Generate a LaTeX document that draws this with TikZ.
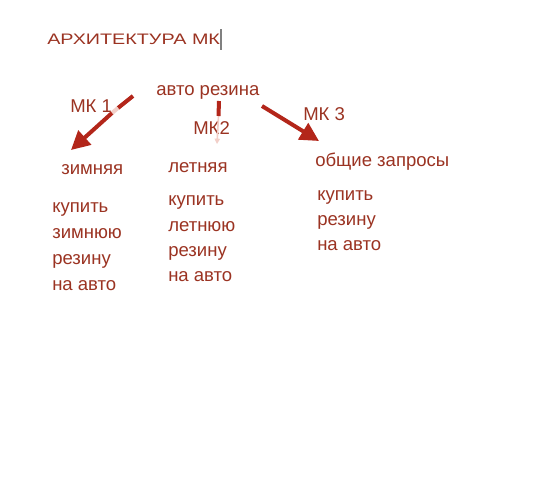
\documentclass[tikz,border=0pt]{standalone}
\usepackage{fontspec}
\setmainfont{Liberation Sans}
\newfontfamily\titlefont[FakeStretch=1.3]{Liberation Sans}
\usetikzlibrary{arrows.meta}
\definecolor{txt}{HTML}{9B3322}
\definecolor{arr}{HTML}{B3261A}
\definecolor{pale}{HTML}{F2CFC8}
\tikzset{
  lbl/.style={anchor=base west, inner sep=0pt, text=txt, font=\fontsize{13.9}{16}\selectfont},
  ttl/.style={anchor=base west, inner sep=0pt, text=txt, font=\titlefont\fontsize{11.4}{13}\selectfont},
  bigarrow/.style={draw=arr, line width=3pt, -{Triangle[length=14pt,width=14pt]}},
  smallarrow/.style={draw=pale, line width=1.2pt, -{Triangle[length=4pt,width=4pt]}},
}
\begin{document}
\begin{tikzpicture}[x=0.75pt,y=-0.75pt]
\useasboundingbox[fill=white] (0,0) rectangle (533,489);
% title
\node[ttl] (title) at (47,45) {АРХИТЕКТУРА МК};
\coordinate (cur1) at (221,29);
\coordinate (cur2) at (221,50);
\draw[gray, line width=0.8pt] (cur1) -- (cur2);
% root
\node[lbl] (root) at (156,95) {авто резина};
% labels
\node[lbl] (mk1) at (70,112) {МК 1};
\node[lbl] (mk2) at (193,134) {МК2};
\node[lbl] (mk3) at (303,120) {МК 3};
% children
\node[lbl] (c1) at (61,174) {зимняя};
\node[lbl] (c2) at (168,172) {летняя};
\node[lbl] (c3) at (315,166) {общие запросы};
% lists
\node[lbl] (l11) at (52,212) {купить};
\node[lbl] (l12) at (52,238) {зимнюю};
\node[lbl] (l13) at (52,264) {резину};
\node[lbl] (l14) at (52,290) {на авто};
\node[lbl] (l21) at (168,205) {купить};
\node[lbl] (l22) at (168,231) {летнюю};
\node[lbl] (l23) at (168,256) {резину};
\node[lbl] (l24) at (168,281) {на авто};
\node[lbl] (l31) at (317,200) {купить};
\node[lbl] (l32) at (317,225) {резину};
\node[lbl] (l33) at (317,250) {на авто};
% arrows
\coordinate (a1s) at (133,96);
\coordinate (a1g1) at (118,108);
\coordinate (a1g2) at (112,113);
\coordinate (a1e) at (71,150);
\draw[draw=arr, line width=3pt] (a1s) -- (a1g1);
\draw[draw=pale, line width=3pt] (a1g1) -- (a1g2);
\draw[bigarrow] (a1g2) -- (a1e);
\coordinate (a2s) at (219,101);
\coordinate (a2m) at (218.5,116);
\coordinate (a2e) at (217,144);
\draw[smallarrow] (a2m) -- (a2e);
\draw[draw=arr, line width=3pt] (a2s) -- (a2m);
\coordinate (a3s) at (262,106);
\coordinate (a3e) at (319,141);
\draw[bigarrow] (a3s) -- (a3e);
\end{tikzpicture}
\end{document}
